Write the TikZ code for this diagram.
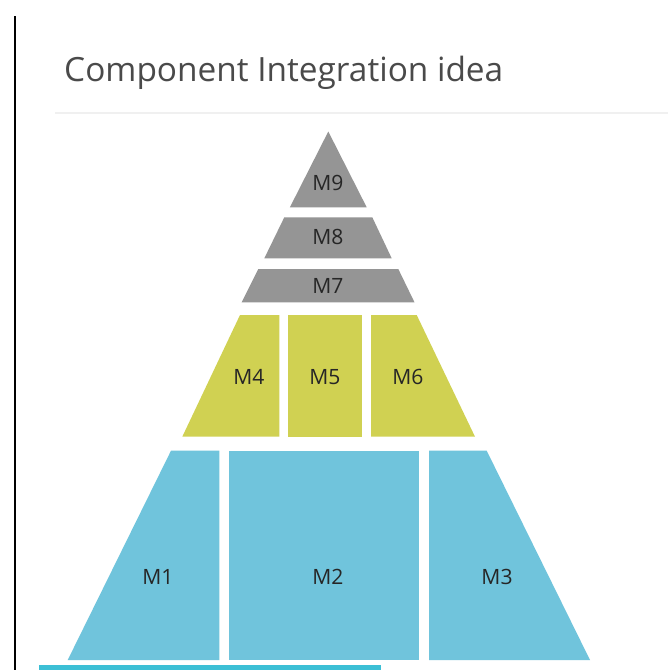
\documentclass[tikz,border=0pt]{standalone}
\usepackage{fontspec}
\setmainfont{Open Sans}
\usepackage{xcolor}
\usetikzlibrary{positioning}
\definecolor{tiergray}{HTML}{959595}
\definecolor{tieryellow}{HTML}{D0D152}
\definecolor{tierblue}{HTML}{70C4DC}
\definecolor{barcyan}{HTML}{3CBFD5}
\definecolor{labelink}{HTML}{262626}
\definecolor{titleink}{HTML}{4A4A4A}
\tikzset{
  % Pyramid styles
  tier/.style={fill=#1, draw=none},
  tier/.default={tiergray},
  tierlabel/.style={font=\fontsize{18}{22}\selectfont, text=labelink, inner sep=0pt},
  slidetitle/.style={font=\fontsize{28.5}{34}\selectfont, text=titleink, inner sep=0pt, anchor=base west},
}

\begin{document}
\begin{tikzpicture}[x=0.03cm, y=-0.03cm]
    \useasboundingbox (0,0) rectangle (668,670);
    \fill[white] (0,0) rectangle (668,670);

    % Slide frame
    \draw[black, line width=1pt] (15,16) -- (15,670);
    \node[slidetitle] (title) at (64,81) {Component Integration idea};
    \draw[black!6, line width=1.2pt] (55,113) -- (668,113);

    % Top tier (gray)
    \fill[tier] (328.3,131.5) -- (366.7,207.3) -- (289.9,207.3) -- cycle;
    \fill[tier] (284.3,217.3) -- (372.3,217.3) -- (391.7,258.3) -- (264.3,258.3) -- cycle;
    \fill[tier] (258.3,269) -- (398.3,269) -- (414.5,302.3) -- (241.7,302.3) -- cycle;
    \node[tierlabel] (m9) at (328,183) {M9};
    \node[tierlabel] (m8) at (328,237) {M8};
    \node[tierlabel] (m7) at (328,286) {M7};

    % Middle tier (yellow)
    \fill[tier=tieryellow] (240,315) -- (279.3,315) -- (279.3,436.7) -- (182.3,436.7) -- cycle;
    \fill[tier=tieryellow] (288.3,315) rectangle (362.3,436.7);
    \fill[tier=tieryellow] (371,315) -- (416.7,315) -- (475,436.7) -- (371,436.7) -- cycle;
    \node[tierlabel] (m4) at (249,377) {M4};
    \node[tierlabel] (m5) at (325,377) {M5};
    \node[tierlabel] (m6) at (408,377) {M6};

    % Bottom tier (blue)
    \fill[tier=tierblue] (171,450.7) -- (219.3,450.7) -- (219.3,660) -- (67.7,660) -- cycle;
    \fill[tier=tierblue] (229,450.7) rectangle (419.3,660);
    \fill[tier=tierblue] (429,450.7) -- (486.7,450.7) -- (590,660) -- (429,660) -- cycle;
    \node[tierlabel] (m1) at (158,577) {M1};
    \node[tierlabel] (m2) at (328,577) {M2};
    \node[tierlabel] (m3) at (497,577) {M3};

    % Bar along the bottom
    \fill[barcyan] (39,665) rectangle (381,670);
\end{tikzpicture}
\end{document}
